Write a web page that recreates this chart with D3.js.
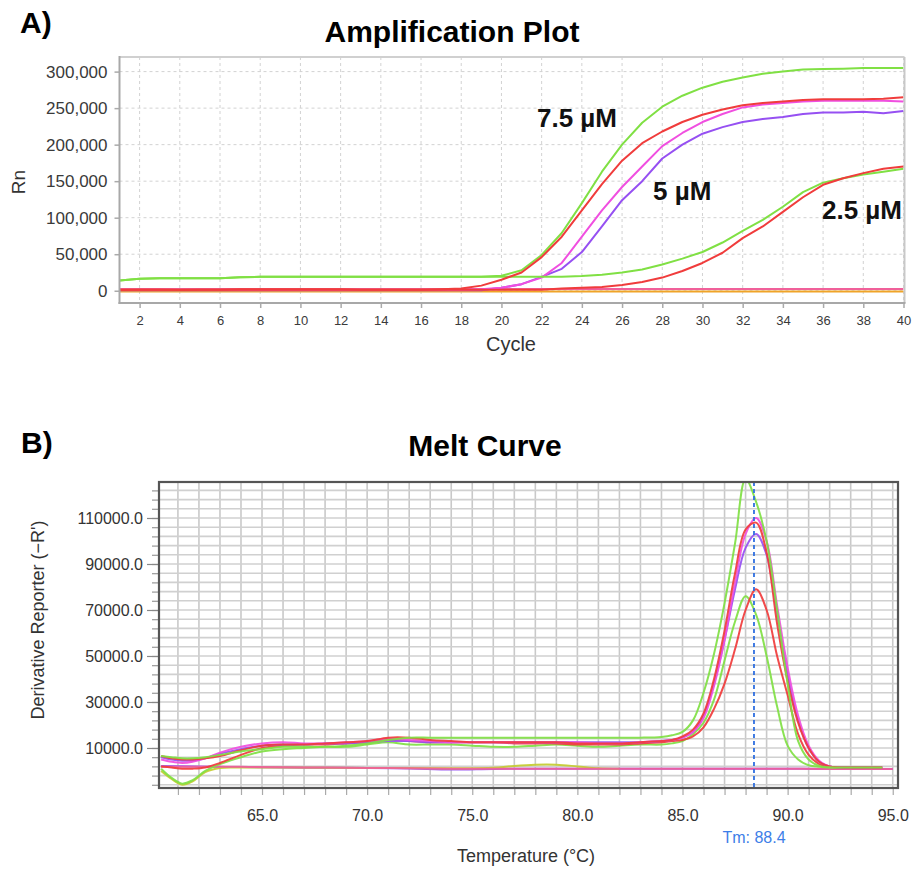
<!DOCTYPE html>
<html><head><meta charset="utf-8">
<script src="https://cdn.jsdelivr.net/npm/d3@7"></script>
<style>
body{margin:0;background:#fff;}
text{font-family:"Liberation Sans",Arial,Helvetica,sans-serif;}
</style>
</head><body>
<svg id="c" width="914" height="869"></svg>
<script>
// ---------- Amplification plot data ----------
const cycles = [1,2,3,4,5,6,7,8,9,10,11,12,13,14,15,16,17,18,19,20,21,22,23,24,25,26,27,28,29,30,31,32,33,34,35,36,37,38,39,40];
const ampXTicks = [2,4,6,8,10,12,14,16,18,20,22,24,26,28,30,32,34,36,38,40];
const ampYTicks = [0,50000,100000,150000,200000,250000,300000];
const ampG75 = [14000,16500,17000,17000,17000,17000,18500,19000,19000,19000,19000,19000,19000,19000,19000,19000,19000,19000,19000,20500,28000,49000,79000,120000,163000,200000,230000,252000,267000,278000,286000,292000,297000,300000,303000,303500,304000,305000,305000,305000];
const ampR75 = [1000,1500,1500,1000,1500,1500,2000,2000,2000,2000,2000,2000,1500,1500,1500,1500,2000,3000,7000,15000,25000,46000,74000,110000,146000,178000,202000,218000,231000,241000,248000,254000,257000,259000,261000,262000,262000,262000,263000,265000];
const ampM5  = [1000,1000,1000,1000,1000,1000,1000,1000,1000,1000,1000,1000,1000,1000,1000,1000,1000,1000,2000,4000,9000,18000,38000,74000,110000,142000,170000,198000,216000,231000,242000,251000,255000,257000,259000,260000,260000,260000,260000,259000];
const ampP5  = [800,800,800,800,800,800,800,800,800,800,800,800,800,800,800,800,800,800,800,4000,9000,19000,30000,53000,88000,124000,150000,181000,200000,215000,224000,231000,235000,238000,242000,244000,244000,245000,243000,246000];
const ampG25 = [14000,16500,17000,17000,17000,17000,18500,19000,19000,19000,19000,19000,19000,19000,19000,19000,19000,19000,19000,19000,19000,19000,19000,20000,22000,25000,29000,36000,44000,53000,66000,82000,97000,115000,135000,148000,154000,159000,163000,167000];
const ampR25 = [1500,1500,1500,1500,1500,1500,1500,1500,1500,1500,1500,1500,1500,1500,1500,1500,1500,1500,1500,1500,1500,1500,3000,4000,5000,8000,12000,18000,27000,38000,52000,72000,88000,108000,128000,145000,154000,161000,167000,170000];
const ampNtcPink = [2500,2500,2500,2500,2500,2500,2500,2500,2500,2500,2500,2500,2500,2500,2500,2500,2500,2500,2500,2500,2500,2500,2500,2500,2500,2500,2500,2500,2500,2500,2500,2500,2500,2500,2500,2500,2500,2500,2500,2500];
const ampNtcOrange = [-1000,-1000,-1000,-1000,-1000,-1000,-1000,-1000,-1000,-1000,-1000,-1000,-1000,-1000,-1000,-1000,-1000,-1000,-1000,-1000,-1000,-1000,-1000,-1000,-1000,-1000,-1000,-1000,-1000,-1000,-1000,-1000,-1000,-1000,-1000,-1000,-1000,-1000,-1000,-1000];

// ---------- Melt curve data ----------
const meltTemps = [60.2,60.7,61.2,61.7,62.3,63,64,65,66,67,68,69,70,71,72,73,74,75,76,77,78,79,80,81,82,83,84,84.5,85,85.5,86,86.5,87,87.5,88,88.5,89,89.5,90,90.5,91,91.5,92,93,94,94.5];
const meltG75 = [6500,6000,5500,5500,6000,7000,8500,9500,10500,10500,10500,11000,12000,13500,14500,14500,14500,14500,14500,14500,14500,14500,14500,14500,14500,14500,14800,15500,17000,22000,34000,51000,73000,99000,127000,117000,100000,70000,38000,13000,5000,2200,1600,1500,1500,1500];
const meltR75 = [6500,5500,5000,5000,5500,6500,9000,11000,11500,11500,12000,12500,13000,14500,14500,13500,13000,12500,12500,12500,12500,12500,12000,12000,12000,12500,13000,13500,15000,18000,25000,40000,61000,86000,105000,108000,95000,64000,39000,21000,10000,4000,2000,1500,1500,1500];
const meltM5  = [5000,4000,3500,4000,5500,8000,10500,12000,12500,12000,12000,12500,13000,14000,13500,13000,12500,12500,12500,12500,12500,12500,12500,12000,12000,12500,13000,13500,14500,17000,23000,37000,57000,82000,103000,110000,100000,72000,45000,24000,11000,4500,2000,1500,1500,1500];
const meltP5  = [6000,5000,4500,4500,5500,7500,9500,11000,11500,11500,12000,12000,12500,13000,13000,12500,12500,12500,12500,12500,12500,12500,12500,12500,12500,12500,13000,13500,14500,17000,24000,38000,57000,79000,97000,103000,94000,68000,42000,22000,10000,4000,2000,1500,1500,1500];
const meltR25 = [2000,1500,1000,1000,1500,3500,7000,10000,11000,11500,11500,12000,12500,13500,13000,12500,12500,12500,12500,12000,12000,12000,11500,11500,11500,12000,12500,13000,13500,15000,19000,27000,38000,53000,70000,79000,70000,50000,33000,16000,7000,3000,1800,1500,1500,1500];
const meltG25 = [1000,-3000,-5500,-4000,0,3000,6000,8500,9500,10000,10500,10500,11500,12500,11500,11500,11500,11000,10500,10500,11000,11500,11000,10500,11000,11500,11500,12000,13000,16000,21000,31000,48000,65000,76000,68000,50000,28000,11000,5000,2500,1800,1500,1500,1500,1500];
const ntcTemps = [60.2,62,64,66,68,70,72,74,76,78,80,82,85,88,90,92,95];
const ntcPinkMelt   = [1800,1800,1800,1600,1500,1300,1200,1000,1000,1000,1000,1000,1000,1000,1000,900,900];
const ntcPurpleMelt = [2200,1900,1700,1500,1400,1300,1100,600,900,1000,1000,1000,1000,1000,1000,900,900];
const yellowTemps = [60.2,60.7,61.2,61.7,62.3,63,64,66,70,74,76,77,78,79,80,81,82];
const ntcYellowMelt = [0,-3500,-6000,-4500,-500,1300,1500,1500,1300,1200,1400,2200,2700,2700,2000,1200,1000];
const meltMajorX = [65,70,75,80,85,90,95];
const meltMinorX = [61,62,63,64,65,66,67,68,69,70,71,72,73,74,75,76,77,78,79,80,81,82,83,84,85,86,87,88,89,90,91,92,93,94,95];
const meltMajorY = [10000,30000,50000,70000,90000,110000];
const meltMinorY = [-6000,-2000,2000,6000,10000,14000,18000,22000,26000,30000,34000,38000,42000,46000,50000,54000,58000,62000,66000,70000,74000,78000,82000,86000,90000,94000,98000,102000,106000,110000,114000,118000,122000];
const tmValue = 88.4;

const COL = {green:"#80e044", red:"#f03c3c", magenta:"#f04fe0", purple:"#9650f2", pink:"#f0609a", orange:"#f0a428", yellow:"#c4cc30"};

const svg = d3.select("#c");

// ================= A) Amplification Plot =================
const A = {l:119.5, r:903.5, t:57, b:303};
const xA = d3.scaleLinear().domain([1,40]).range([A.l, A.r]);
const yA = d3.scaleLinear().domain([-16800,320000]).range([A.b, A.t]);

svg.append("text").attr("x",20).attr("y",33).attr("font-size",30).attr("font-weight","bold").text("A)");
svg.append("text").attr("x",452).attr("y",42).attr("text-anchor","middle").attr("font-size",30).attr("font-weight","bold").text("Amplification Plot");

const gA = svg.append("g");
gA.selectAll("line.vg").data(ampXTicks).join("line").attr("class","vg")
  .attr("x1",d=>xA(d)).attr("x2",d=>xA(d)).attr("y1",A.t).attr("y2",A.b)
  .attr("stroke","#d2d2d2").attr("stroke-dasharray","3,3");
gA.selectAll("line.hg").data(ampYTicks).join("line").attr("class","hg")
  .attr("x1",A.l).attr("x2",A.r).attr("y1",d=>yA(d)).attr("y2",d=>yA(d))
  .attr("stroke","#d2d2d2").attr("stroke-dasharray","3,3");
// light frame top/right
gA.append("line").attr("x1",A.l).attr("x2",A.r+1).attr("y1",A.t).attr("y2",A.t).attr("stroke","#d0d0d0").attr("stroke-width",2);
gA.append("line").attr("x1",A.r+1).attr("x2",A.r+1).attr("y1",A.t).attr("y2",A.b).attr("stroke","#c8c8c8").attr("stroke-width",2);

const axLA = gA.append("g").attr("transform",`translate(${A.l},0)`)
  .call(d3.axisLeft(yA).tickValues(ampYTicks).tickSize(5).tickPadding(7).tickFormat(d3.format(",")));
axLA.select(".domain").remove();
axLA.selectAll(".tick line").attr("stroke","#aaa").attr("stroke-width",1.5);
axLA.selectAll("text").attr("font-size",17).attr("fill","#3a3a3a").attr("font-family","Liberation Sans, Arial, sans-serif");

const axBA = gA.append("g").attr("transform",`translate(0,${A.b})`)
  .call(d3.axisBottom(xA).tickValues(ampXTicks).tickSize(5).tickPadding(8).tickFormat(d3.format("d")));
axBA.select(".domain").remove();
axBA.selectAll(".tick line").attr("stroke","#aaa").attr("stroke-width",1.5);
axBA.selectAll("text").attr("font-size",13).attr("fill","#3a3a3a").attr("font-family","Liberation Sans, Arial, sans-serif");

const clipA = svg.append("clipPath").attr("id","clipA");
clipA.append("rect").attr("x",A.l).attr("y",A.t).attr("width",A.r-A.l).attr("height",A.b-A.t);

const lineA = d3.line().x((d,i)=>xA(cycles[i])).y(d=>yA(d));
const ampSeries = [
  [ampNtcOrange, COL.orange],
  [ampNtcPink, COL.pink],
  [ampP5, COL.purple],
  [ampM5, COL.magenta],
  [ampG25, COL.green],
  [ampG75, COL.green],
  [ampR25, COL.red],
  [ampR75, COL.red]
];
const linesA = gA.append("g").attr("clip-path","url(#clipA)");
ampSeries.forEach(([vals,c])=>{
  linesA.append("path").attr("d",lineA(vals)).attr("fill","none").attr("stroke",c).attr("stroke-width",2).attr("stroke-linejoin","round");
});

// axis lines (left, bottom)
gA.append("line").attr("x1",A.l).attr("x2",A.l).attr("y1",A.t-1).attr("y2",A.b+1).attr("stroke","#a8a8a8").attr("stroke-width",2);
gA.append("line").attr("x1",A.l-1).attr("x2",A.r+2).attr("y1",A.b).attr("y2",A.b).attr("stroke","#a8a8a8").attr("stroke-width",2);

svg.append("text").attr("transform","translate(25,182) rotate(-90)").attr("text-anchor","middle").attr("font-size",19).attr("fill","#333").text("Rn");
svg.append("text").attr("x",511).attr("y",351).attr("text-anchor","middle").attr("font-size",20).attr("fill","#333").text("Cycle");

svg.append("text").attr("x",537).attr("y",127).attr("font-size",26).attr("font-weight","bold").attr("fill","#111").text("7.5 µM");
svg.append("text").attr("x",653).attr("y",200).attr("font-size",26).attr("font-weight","bold").attr("fill","#111").text("5 µM");
svg.append("text").attr("x",822).attr("y",219).attr("font-size",26).attr("font-weight","bold").attr("fill","#111").text("2.5 µM");

// ================= B) Melt Curve =================
const B = {l:159, r:898, t:482, b:788};
const xB = d3.scaleLinear().domain([60.1,95.25]).range([B.l,B.r]);
const yB = d3.scaleLinear().domain([-7400,125650]).range([B.b,B.t]);

svg.append("text").attr("x",21).attr("y",453).attr("font-size",30).attr("font-weight","bold").text("B)");
svg.append("text").attr("x",485).attr("y",456).attr("text-anchor","middle").attr("font-size",30).attr("font-weight","bold").text("Melt Curve");

const gB = svg.append("g");
gB.selectAll("line.vg").data(meltMinorX).join("line").attr("class","vg")
  .attr("x1",d=>xB(d)).attr("x2",d=>xB(d)).attr("y1",B.t).attr("y2",B.b)
  .attr("stroke","#c9c9c9").attr("stroke-width",1.6);
gB.selectAll("line.hg").data(meltMinorY).join("line").attr("class","hg")
  .attr("x1",B.l).attr("x2",B.r).attr("y1",d=>yB(d)).attr("y2",d=>yB(d))
  .attr("stroke","#d0d0d0").attr("stroke-width",1.6);

// minor ticks
const axLBm = gB.append("g").attr("transform",`translate(${B.l},0)`)
  .call(d3.axisLeft(yB).tickValues(meltMinorY).tickSize(7).tickFormat(""));
axLBm.select(".domain").remove();
axLBm.selectAll(".tick line").attr("stroke","#999").attr("stroke-width",1.2);
const axLB = gB.append("g").attr("transform",`translate(${B.l},0)`)
  .call(d3.axisLeft(yB).tickValues(meltMajorY).tickSize(12).tickPadding(4).tickFormat(d3.format(".1f")));
axLB.select(".domain").remove();
axLB.selectAll(".tick line").attr("stroke","#888").attr("stroke-width",1.2);
axLB.selectAll("text").attr("font-size",16).attr("fill","#333").attr("font-family","Liberation Sans, Arial, sans-serif");

const axBBm = gB.append("g").attr("transform",`translate(0,${B.b})`)
  .call(d3.axisBottom(xB).tickValues(meltMinorX).tickSize(7).tickFormat(""));
axBBm.select(".domain").remove();
axBBm.selectAll(".tick line").attr("stroke","#aaa").attr("stroke-width",1.2);
const axBB = gB.append("g").attr("transform",`translate(0,${B.b})`)
  .call(d3.axisBottom(xB).tickValues(meltMajorX).tickSize(0).tickPadding(22).tickFormat(d3.format(".1f")));
axBB.select(".domain").remove();
axBB.selectAll("text").attr("font-size",16).attr("fill","#333").attr("font-family","Liberation Sans, Arial, sans-serif");

const clipB = svg.append("clipPath").attr("id","clipB");
clipB.append("rect").attr("x",B.l).attr("y",B.t).attr("width",B.r-B.l).attr("height",B.b-B.t);

const linesB = gB.append("g").attr("clip-path","url(#clipB)");
const mkLine = (temps)=> d3.line().x((d,i)=>xB(temps[i])).y(d=>yB(d)).curve(d3.curveCatmullRom.alpha(0.5));
const meltSeries = [
  [ntcTemps, ntcPurpleMelt, COL.purple],
  [yellowTemps, ntcYellowMelt, COL.yellow],
  [ntcTemps, ntcPinkMelt, COL.pink],
  [meltTemps, meltG25, COL.green],
  [meltTemps, meltR25, COL.red],
  [meltTemps, meltP5, COL.purple],
  [meltTemps, meltM5, COL.magenta],
  [meltTemps, meltR75, COL.red],
  [meltTemps, meltG75, COL.green]
];
meltSeries.forEach(([t,v,c])=>{
  linesB.append("path").attr("d",mkLine(t)(v)).attr("fill","none").attr("stroke",c).attr("stroke-width",2).attr("stroke-opacity",0.92);
});

// Tm line
gB.append("line").attr("x1",xB(tmValue)).attr("x2",xB(tmValue)).attr("y1",B.t).attr("y2",B.b)
  .attr("stroke","#2f6fe0").attr("stroke-width",1.8).attr("stroke-dasharray","4,3");

// frame
gB.append("rect").attr("x",B.l).attr("y",B.t).attr("width",B.r-B.l).attr("height",B.b-B.t)
  .attr("fill","none").attr("stroke","#555").attr("stroke-width",2.2);

svg.append("text").attr("x",xB(tmValue)).attr("y",843).attr("text-anchor","middle").attr("font-size",16).attr("fill","#3c7ee8").text("Tm: " + d3.format(".1f")(tmValue));
svg.append("text").attr("x",526).attr("y",862).attr("text-anchor","middle").attr("font-size",18).attr("fill","#333").text("Temperature (°C)");
svg.append("text").attr("transform","translate(38,620) rotate(-90)").attr("dy","0.35em").attr("text-anchor","middle").attr("font-size",18).attr("fill","#333").text("Derivative Reporter (−R')");
</script>
</body></html>
